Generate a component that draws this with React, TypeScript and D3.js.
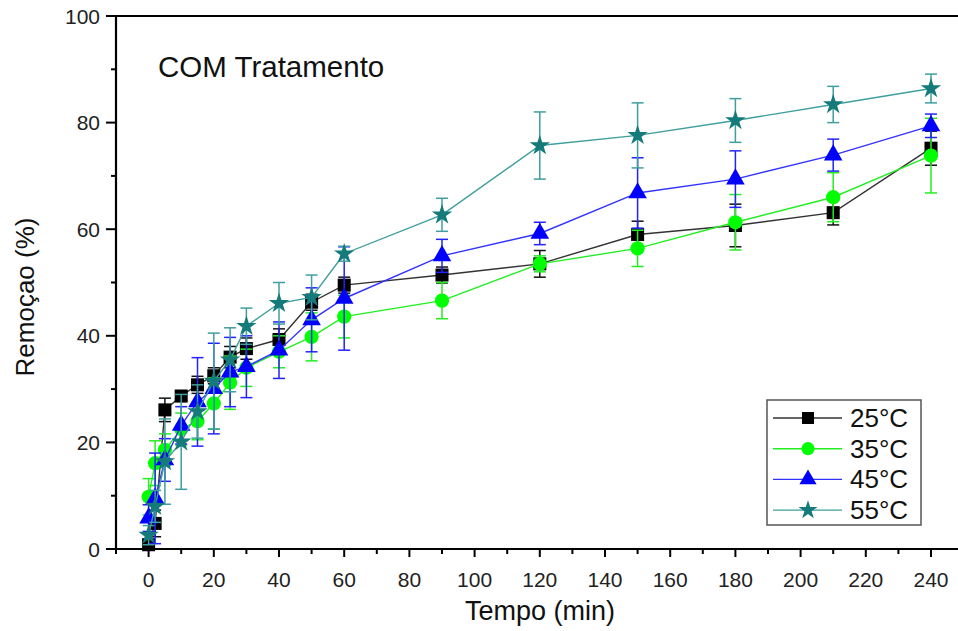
import React from "react";
import * as d3 from "d3";

const times = [0, 2, 5, 10, 15, 20, 25, 30, 40, 50, 60, 90, 120, 150, 180, 210, 240];

const r25 = [0.8, 4.8, 26.1, 28.7, 30.8, 32.5, 36.0, 37.6, 39.3, 46.3, 49.5, 51.4, 53.5, 59.0, 60.7, 63.1, 75.2];
const e25 = [1.0, 2.5, 2.2, 1.0, 1.6, 1.5, 2.0, 2.0, 2.0, 1.5, 1.5, 1.5, 2.5, 2.5, 4.0, 2.3, 3.2];

const r35 = [9.8, 16.1, 18.6, 22.5, 24.0, 27.3, 31.2, 34.0, 37.0, 39.8, 43.6, 46.6, 53.5, 56.4, 61.3, 66.0, 73.8];
const e35 = [3.4, 4.2, 3.0, 3.0, 3.5, 4.8, 5.0, 3.5, 3.0, 4.5, 4.0, 3.4, 1.5, 3.4, 5.2, 4.6, 7.0];

const r45 = [5.8, 9.5, 16.7, 23.2, 27.6, 30.1, 33.2, 34.2, 37.3, 43.0, 47.0, 55.0, 59.2, 66.8, 69.4, 73.9, 79.4];
const e45 = [2.5, 8.5, 4.0, 3.5, 8.3, 8.5, 6.5, 5.8, 5.3, 6.0, 9.7, 3.1, 2.1, 6.6, 5.3, 3.0, 2.2];

const r55 = [2.6, 8.0, 16.4, 20.1, 25.8, 31.5, 35.5, 41.8, 46.1, 47.2, 55.4, 62.7, 75.7, 77.6, 80.4, 83.4, 86.4];
const e55 = [1.8, 3.0, 8.0, 8.9, 5.0, 9.0, 6.0, 3.4, 3.9, 4.2, 1.4, 3.1, 6.3, 6.1, 4.1, 3.4, 2.7];

const seriesLabels = ["25°C", "35°C", "45°C", "55°C"];
const yTicksMajor = [0, 20, 40, 60, 80, 100];
const yTicksMinor = [10, 30, 50, 70, 90];
const xTicksMajor = [0, 20, 40, 60, 80, 100, 120, 140, 160, 180, 200, 220, 240];
const xTicksMinor = [-10, 10, 30, 50, 70, 90, 110, 130, 150, 170, 190, 210, 230, 250];

const styles = [
  { line: "#333333", err: "#111111", fill: "#000000", symbol: d3.symbolSquare, size: 170 },
  { line: "#22ee22", err: "#22ee22", fill: "#00ff00", symbol: d3.symbolCircle, size: 160 },
  { line: "#3333ff", err: "#2222ff", fill: "#0000ff", symbol: d3.symbolTriangle, size: 150 },
  { line: "#3f9e9e", err: "#3f9e9e", fill: "#157a7a", symbol: d3.symbolStar, size: 130 },
];

const FONT = "'Liberation Sans', Arial, sans-serif";

export default function App() {
  const x = d3.scaleLinear().domain([-10, 250]).range([116, 963.6]);
  const y = d3.scaleLinear().domain([0, 100]).range([549, 16]);
  const values = [r25, r35, r45, r55];
  const errs = [e25, e35, e45, e55];
  const line = d3
    .line<[number, number]>()
    .x((d) => x(d[0]))
    .y((d) => y(d[1]));

  const cap = 6;

  return (
    <svg
      width={958}
      height={631}
      style={{ position: "absolute", left: 0, top: 0, background: "#fff" }}
      fontFamily={FONT}
    >
      <rect x={0} y={0} width={958} height={631} fill="#fff" />
      {values.map((vals, si) => {
        const st = styles[si];
        const pts = times.map((t, i) => [t, vals[i]] as [number, number]);
        const sym = d3.symbol().type(st.symbol).size(st.size)();
        return (
          <g key={si}>
            <path d={line(pts) || ""} fill="none" stroke={st.line} strokeWidth={1.4} />
            {times.map((t, i) => {
              const cx = x(t);
              const top = y(vals[i] + errs[si][i]);
              const bot = y(Math.max(0, vals[i] - errs[si][i]));
              return (
                <g key={i} stroke={st.err} strokeWidth={1.5}>
                  <line x1={cx} x2={cx} y1={top} y2={bot} />
                  <line x1={cx - cap} x2={cx + cap} y1={top} y2={top} />
                  <line x1={cx - cap} x2={cx + cap} y1={bot} y2={bot} />
                </g>
              );
            })}
            {times.map((t, i) => (
              <path
                key={"m" + i}
                d={sym || ""}
                transform={`translate(${x(t)},${y(vals[i])})`}
                fill={st.fill}
              />
            ))}
          </g>
        );
      })}

      <line x1={x(-10)} x2={x(250)} y1={y(100)} y2={y(100)} stroke="#000" strokeWidth={2} />
      <line x1={x(250)} x2={x(250)} y1={y(100)} y2={y(0)} stroke="#000" strokeWidth={2} />
      <line x1={x(-10)} x2={x(-10)} y1={y(100) - 1} y2={y(0) + 1} stroke="#000" strokeWidth={2.2} />
      <line x1={x(-10) - 1} x2={x(250)} y1={y(0)} y2={y(0)} stroke="#000" strokeWidth={2.2} />

      {yTicksMajor.map((v) => (
        <g key={"ym" + v}>
          <line x1={x(-10) - 10} x2={x(-10)} y1={y(v)} y2={y(v)} stroke="#000" strokeWidth={2} />
          <text
            x={100}
            y={y(v)}
            textAnchor="end"
            dominantBaseline="central"
            fontSize={21}
            fill="#222"
          >
            {v}
          </text>
        </g>
      ))}
      {yTicksMinor.map((v) => (
        <line key={"yn" + v} x1={x(-10) - 5} x2={x(-10)} y1={y(v)} y2={y(v)} stroke="#000" strokeWidth={2} />
      ))}
      {xTicksMajor.map((v) => (
        <g key={"xm" + v}>
          <line x1={x(v)} x2={x(v)} y1={y(0)} y2={y(0) + 8} stroke="#000" strokeWidth={2} />
          <text x={x(v)} y={587} textAnchor="middle" fontSize={21} fill="#222">
            {v}
          </text>
        </g>
      ))}
      {xTicksMinor.map((v) => (
        <line key={"xn" + v} x1={x(v)} x2={x(v)} y1={y(0)} y2={y(0) + 5} stroke="#000" strokeWidth={2} />
      ))}

      <text x={540} y={620} textAnchor="middle" fontSize={27} fill="#111">
        Tempo (min)
      </text>
      <text
        transform="translate(34,297) rotate(-90)"
        textAnchor="middle"
        fontSize={26}
        fill="#111"
      >
        Remoçao (%)
      </text>
      <text x={158} y={77} fontSize={29.5} fill="#111">
        COM Tratamento
      </text>

      <rect x={767} y={400} width={154} height={125} fill="#fff" stroke="#555" strokeWidth={1.5} />
      {seriesLabels.map((lab, i) => {
        const st = styles[i];
        const ly = 418 + i * 30.7;
        const sym = d3.symbol().type(st.symbol).size(st.size * 0.85)();
        return (
          <g key={lab}>
            <line x1={773} x2={842} y1={ly} y2={ly} stroke={st.line} strokeWidth={1.4} />
            <path d={sym || ""} transform={`translate(808,${ly})`} fill={st.fill} />
            <text x={850} y={ly} dominantBaseline="central" fontSize={26} fill="#111">
              {lab}
            </text>
          </g>
        );
      })}
    </svg>
  );
}
